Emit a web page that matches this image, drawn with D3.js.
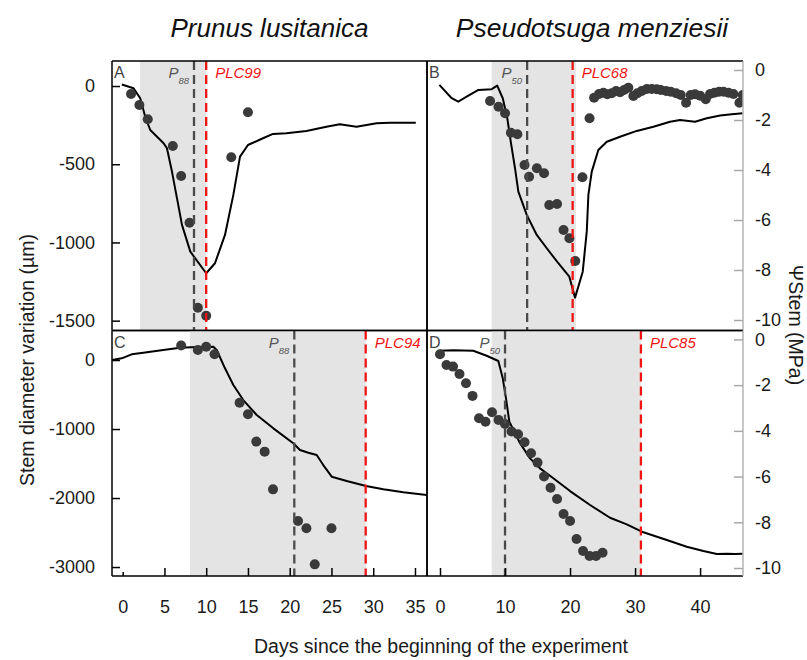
<!DOCTYPE html>
<html><head><meta charset="utf-8">
<script src="https://cdn.jsdelivr.net/npm/d3@7"></script>
<style>
body{margin:0;background:#fff;}
text{font-family:"Liberation Sans",Arial,Helvetica,sans-serif;}
</style>
</head><body>
<svg id="chart" width="807" height="660"></svg>
<script>
// ---------------- DATA ----------------
const speciesTitles = ["Prunus lusitanica", "Pseudotsuga menziesii"];
const panelLetters = ["A", "B", "C", "D"];
const xTicksLeft = [0, 5, 10, 15, 20, 25, 30, 35];
const xTicksRight = [0, 10, 20, 30, 40];
const yTicksTopLeft = [0, -500, -1000, -1500];
const yTicksBottomLeft = [0, -1000, -2000, -3000];
const yTicksPsi = [0, -2, -4, -6, -8, -10];

// Panel A: stem diameter variation (µm) line, Ψstem (MPa) points
const lineA = [[-0.1,10],[1.3,-14],[2.1,-78],[2.7,-196],[3.3,-281],[4.9,-366],[5.3,-398],[5.9,-547],[6.5,-717],[7.1,-888],[8.1,-1059],[10.0,-1197],[11.05,-1133],[12.25,-952],[13.25,-696],[14.05,-451],[15.0,-377],[16.8,-334],[18.0,-306],[19.6,-302],[22.0,-287],[24.4,-260],[26.0,-244],[28.0,-260],[29.2,-249],[30.4,-238],[32.0,-234],[35.1,-234]];
const psiA = [[1,-0.96],[2,-1.4],[3,-1.97],[6,-3.04],[7,-4.24],[8,-6.11],[9,-9.51],[10,-9.83],[13,-3.49],[15,-1.69]];

// Panel B
const lineB = [[-0.1,7],[1.8,-78],[2.8,-100],[4.1,-68],[5.9,-25],[7.95,-20],[8.8,3],[9.65,-78],[10.35,-206],[10.88,-355],[11.54,-526],[12.05,-675],[13.34,-824],[14.88,-952],[16.42,-1037],[18.2,-1133],[19.89,-1219],[20.77,-1353],[21.95,-1187],[22.57,-931],[22.82,-696],[23.34,-547],[24.35,-409],[25.65,-356],[27.69,-324],[30.26,-287],[32.82,-260],[35.38,-228],[36.92,-217],[39.23,-228],[41.03,-206],[43.08,-189],[44.88,-180],[46.57,-174]];
const psiB = [[7.7,-1.24],[9,-1.47],[10,-1.73],[10.9,-2.51],[11.9,-2.57],[13,-3.8],[13.7,-4.27],[14.9,-3.93],[16,-4.13],[16.8,-5.4],[18,-5.36],[19,-6.4],[19.9,-6.73],[20.8,-7.64],[21.9,-4.29],[23,-1.93],
  [23.7,-1.11],[24.46,-0.96],[25.13,-0.91],[25.74,-0.97],[26.41,-0.93],[27.08,-0.84],[27.69,-0.89],[28.31,-0.8],[28.97,-0.71],[29.74,-1.04],[30.36,-0.93],[31.03,-0.84],[31.8,-0.76],[32.56,-0.76],[33.33,-0.77],[33.95,-0.8],[34.77,-0.84],[35.49,-0.87],[36.31,-0.93],[37.03,-1.0],[37.85,-1.31],[38.56,-1.0],[39.23,-0.97],[40.0,-1.03],[40.87,-1.17],[41.54,-0.96],[42.2,-0.91],[42.92,-0.87],[43.59,-0.87],[44.36,-0.91],[45.13,-0.96],[46.05,-1.31],[46.56,-1.0]];

// Panel C
const lineC = [[-1.3,0],[-0.12,25],[1.08,83],[2.47,106],[4.86,145],[6.86,178],[8.86,188],[10.85,193],[11.26,145],[12.25,-120],[13.25,-362],[14.44,-580],[16.05,-797],[18.04,-990],[20.43,-1207],[21.23,-1304],[22.23,-1343],[23.23,-1377],[24.02,-1522],[25.03,-1691],[26.83,-1754],[29.14,-1826],[31.21,-1874],[33.6,-1917],[36.4,-1957]];
const psiC = [[7,-0.27],[9,-0.46],[10,-0.32],[11,-0.65],[14,-2.77],[15,-3.27],[16,-4.47],[17,-4.91],[18,-6.56],[21,-7.94],[22,-8.26],[25,-8.26],[23,-9.84]];

// Panel D
const lineD = [[0,135],[2.05,141],[5.12,135],[7.18,62],[8.97,-14],[9.65,-265],[10.15,-555],[10.66,-894],[11.18,-990],[12.31,-1207],[13.85,-1425],[15.38,-1570],[17.43,-1714],[20.0,-1899],[23.08,-2101],[26.15,-2286],[28.72,-2381],[31.28,-2497],[34.88,-2609],[37.95,-2706],[40.51,-2768],[42.57,-2812],[44.11,-2807],[45.38,-2812],[46.57,-2807]];
const psiD = [[0,-0.65],[1,-1.12],[2,-1.19],[3,-1.51],[4,-1.92],[5,-2.47],[6,-3.45],[7,-3.6],[8,-3.19],[9,-3.52],[10,-3.7],[11,-4.03],[12,-4.15],[13,-4.5],[14,-4.98],[15,-5.39],[16,-6.0],[17,-6.49],[18,-6.98],[19,-7.64],[20,-7.94],[21,-8.73],[22,-9.26],[23,-9.47],[24,-9.47],[25,-9.33]];

// shaded period [start, end], P-threshold day, PLC day, labels
const shadeDays = [[2.07,10.0],[7.95,20.9],[8.06,29.1],[7.95,30.9]];
const pDays = [8.54, 13.4, 20.55, 10.0];
const plcDays = [10.0, 20.4, 29.1, 30.9];
const pSubs = ["88", "50", "88", "50"];
const plcLabels = ["PLC99", "PLC68", "PLC94", "PLC85"];

// ---------------- LAYOUT ----------------
const svg = d3.select("#chart");
const L = 112, M = 427, R = 743, T = 61, MID = 330.5, B = 576;

const xL = d3.scaleLinear().domain([-1.28, 36.44]).range([L, M]);
const xR = d3.scaleLinear().domain([-2, 46.6]).range([M, R]);
const yTopUm = d3.scaleLinear().domain([160, -1563]).range([T, MID]);
const yTopPsi = d3.scaleLinear().domain([0.36, -10.42]).range([T, MID]);
const yBotUm = d3.scaleLinear().domain([428, -3130]).range([MID, B]);
const yBotPsi = d3.scaleLinear().domain([0.39, -10.35]).range([MID, B]);

const panels = [
  {x: xL, yU: yTopUm, yP: yTopPsi, line: lineA, pts: psiA, top: T, bot: MID},
  {x: xR, yU: yTopUm, yP: yTopPsi, line: lineB, pts: psiB, top: T, bot: MID},
  {x: xL, yU: yBotUm, yP: yBotPsi, line: lineC, pts: psiC, top: MID, bot: B},
  {x: xR, yU: yBotUm, yP: yBotPsi, line: lineD, pts: psiD, top: MID, bot: B}
];

panels.forEach((p, i) => {
  const g = svg.append("g");
  const [x0, x1] = p.x.range();
  const clipId = "clip" + i;
  svg.append("clipPath").attr("id", clipId).append("rect")
    .attr("x", x0).attr("y", p.top).attr("width", x1 - x0).attr("height", p.bot - p.top);
  const inner = g.append("g").attr("clip-path", `url(#${clipId})`);
  // shading
  inner.append("rect")
    .attr("x", p.x(shadeDays[i][0])).attr("y", p.top)
    .attr("width", p.x(shadeDays[i][1]) - p.x(shadeDays[i][0]))
    .attr("height", p.bot - p.top).attr("fill", "#e4e4e4");
  // line
  inner.append("path").datum(p.line)
    .attr("d", d3.line().x(d => p.x(d[0])).y(d => p.yU(d[1])))
    .attr("fill", "none").attr("stroke", "#000").attr("stroke-width", 2)
    .attr("stroke-linejoin", "round");
  // points
  inner.selectAll("circle").data(p.pts).enter().append("circle")
    .attr("cx", d => p.x(d[0])).attr("cy", d => p.yP(d[1])).attr("r", 5)
    .attr("fill", "#3a3a3a");
  // dashed lines
  inner.append("line").attr("x1", p.x(pDays[i])).attr("x2", p.x(pDays[i]))
    .attr("y1", p.top).attr("y2", p.bot)
    .attr("stroke", "#4a4a4a").attr("stroke-width", 2.3).attr("stroke-dasharray", "9,5");
  inner.append("line").attr("x1", p.x(plcDays[i])).attr("x2", p.x(plcDays[i]))
    .attr("y1", p.top).attr("y2", p.bot)
    .attr("stroke", "#f01414").attr("stroke-width", 2.3).attr("stroke-dasharray", "9,5");

  // labels
  const lt = g.append("text").attr("x", p.x(pDays[i]) - 5).attr("y", p.top + 17)
    .attr("text-anchor", "end").attr("fill", "#555").attr("font-style", "italic").attr("font-size", 15);
  lt.append("tspan").text("P");
  lt.append("tspan").attr("font-size", 9.5).attr("dy", 6).text(pSubs[i]);
  g.append("text").attr("x", p.x(plcDays[i]) + 9).attr("y", p.top + 17)
    .attr("fill", "#f01414").attr("font-style", "italic").attr("font-size", 15).text(plcLabels[i]);
  g.append("text").attr("x", x0 + 2).attr("y", p.top + 17)
    .attr("fill", "#444").attr("font-size", 16).text(panelLetters[i]);

  // border
  const right = (i % 2 === 1);
  g.append("line").attr("x1", x0).attr("x2", x1).attr("y1", p.top).attr("y2", p.top).attr("stroke", "#000").attr("stroke-width", 1.5);
  g.append("line").attr("x1", x0).attr("x2", x1).attr("y1", p.bot).attr("y2", p.bot).attr("stroke", "#000").attr("stroke-width", 1.5);
  g.append("line").attr("x1", x0).attr("x2", x0).attr("y1", p.top).attr("y2", p.bot).attr("stroke", "#000").attr("stroke-width", 1.5);
  g.append("line").attr("x1", x1).attr("x2", x1).attr("y1", p.top).attr("y2", p.bot)
    .attr("stroke", right ? "#b4b4b4" : "#000").attr("stroke-width", 1.5);
});

// ---------------- AXES ----------------
function styleAxis(sel, color) {
  sel.select(".domain").remove();
  sel.selectAll(".tick line").attr("stroke", color).attr("stroke-width", 1.5);
  sel.selectAll(".tick text").attr("font-size", 18).attr("fill", "#1a1a1a")
    .attr("font-family", "Liberation Sans, Arial, sans-serif");
}
const fmt = d => String(d);

svg.append("g").attr("transform", `translate(${L},0)`)
  .call(d3.axisLeft(yTopUm).tickValues(yTicksTopLeft).tickFormat(fmt).tickSizeInner(-8).tickSizeOuter(0).tickPadding(17))
  .call(s => styleAxis(s, "#000"));
svg.append("g").attr("transform", `translate(${L},0)`)
  .call(d3.axisLeft(yBotUm).tickValues(yTicksBottomLeft).tickFormat(fmt).tickSizeInner(-8).tickSizeOuter(0).tickPadding(17))
  .call(s => styleAxis(s, "#000"));
svg.append("g").attr("transform", `translate(${R},0)`)
  .call(d3.axisRight(yTopPsi).tickValues(yTicksPsi).tickFormat(fmt).tickSizeInner(-9).tickSizeOuter(0).tickPadding(12))
  .call(s => styleAxis(s, "#a8a8a8"));
svg.append("g").attr("transform", `translate(${R},0)`)
  .call(d3.axisRight(yBotPsi).tickValues(yTicksPsi).tickFormat(fmt).tickSizeInner(-9).tickSizeOuter(0).tickPadding(12))
  .call(s => styleAxis(s, "#a8a8a8"));
svg.append("g").attr("transform", `translate(0,${B})`)
  .call(d3.axisBottom(xL).tickValues(xTicksLeft).tickFormat(fmt).tickSizeInner(-8).tickSizeOuter(0).tickPadding(24))
  .call(s => styleAxis(s, "#000"))
  .call(s => s.selectAll(".tick").filter(d => d === 0).select("line").attr("y2", -4));
svg.append("g").attr("transform", `translate(0,${B})`)
  .call(d3.axisBottom(xR).tickValues(xTicksRight).tickFormat(fmt).tickSizeInner(-8).tickSizeOuter(0).tickPadding(24))
  .call(s => styleAxis(s, "#000"));

// ---------------- TITLES ----------------
svg.append("text").attr("x", (L + M) / 2).attr("y", 37).attr("text-anchor", "middle")
  .attr("font-size", 26).attr("font-style", "italic").attr("fill", "#111").text(speciesTitles[0]);
svg.append("text").attr("x", 592).attr("y", 37).attr("text-anchor", "middle")
  .attr("font-size", 26.5).attr("font-style", "italic").attr("fill", "#111").text(speciesTitles[1]);

svg.append("text").attr("transform", "translate(34,360) rotate(-90)").attr("text-anchor", "middle")
  .attr("font-size", 19.5).attr("fill", "#1a1a1a").text("Stem diameter variation (µm)");
svg.append("text").attr("transform", "translate(789,325) rotate(90)").attr("text-anchor", "middle")
  .attr("font-size", 19.5).attr("fill", "#1a1a1a").text("ΨStem (MPa)");
svg.append("text").attr("x", 441).attr("y", 653).attr("text-anchor", "middle")
  .attr("font-size", 19.5).attr("fill", "#1a1a1a").text("Days since the beginning of the experiment");
</script>
</body></html>
